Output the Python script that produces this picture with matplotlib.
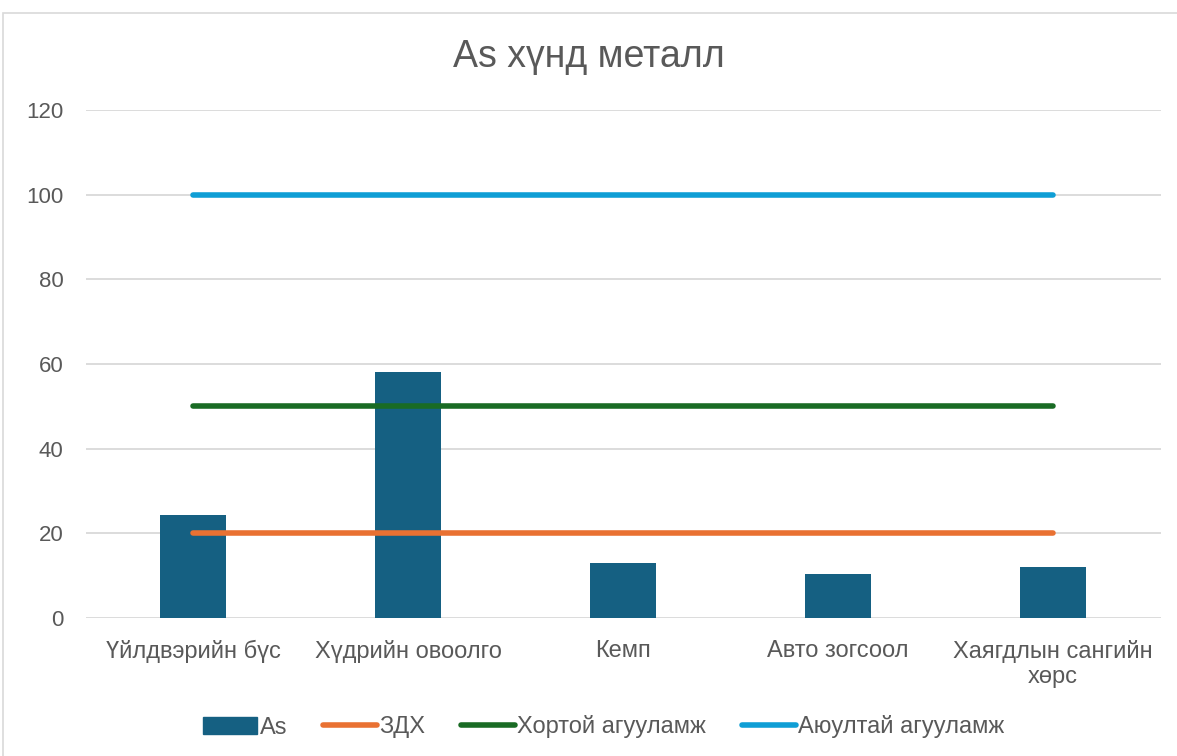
import matplotlib.pyplot as plt
from matplotlib.patches import Patch, Rectangle
from matplotlib.lines import Line2D

plt.rcParams['font.family'] = ['Liberation Sans', 'DejaVu Sans']

# Data
categories = ['Үйлдвэрийн бүс', 'Хүдрийн овоолго', 'Кемп', 'Авто зогсоол', 'Хаягдлын сангийн\nхөрс']
as_values = [24.3, 58.1, 13.0, 10.5, 12.0]
zdh = [20, 20, 20, 20, 20]
hortoi = [50, 50, 50, 50, 50]
ayuultai = [100, 100, 100, 100, 100]

text_col = '#595959'
bar_col = '#156082'
orange = '#E97132'
green = '#196B24'
blue = '#0F9ED5'

fig = plt.figure(figsize=(11.77, 7.56), dpi=100)
ax = fig.add_axes([85.5 / 1177, 1 - 618 / 756, 1075 / 1177, 508 / 756])

# chart border
fig.patches.append(Rectangle((3 / 1177, -0.01), 1.2, 1 - 13 / 756 + 0.01, transform=fig.transFigure,
                             fill=False, edgecolor='#D9D9D9', linewidth=1.2))

x = list(range(len(categories)))
ax.bar(x, as_values, width=0.31, color=bar_col, zorder=2)
ax.plot(x, zdh, color=orange, linewidth=4, solid_capstyle='round', zorder=3)
ax.plot(x, hortoi, color=green, linewidth=4, solid_capstyle='round', zorder=3)
ax.plot(x, ayuultai, color=blue, linewidth=4, solid_capstyle='round', zorder=3)

ax.set_xlim(-0.5, len(categories) - 0.5)
ax.set_ylim(0, 120)
ax.set_yticks(range(0, 121, 20))
ax.set_xticks(x)
ax.set_xticklabels(categories, fontsize=17, color=text_col, linespacing=1.15)
ax.tick_params(axis='y', labelsize=16, labelcolor=text_col, length=0, pad=16)
ax.tick_params(axis='x', length=0, pad=16)
ax.grid(axis='y', color='#D9D9D9', linewidth=1.3, zorder=0)
for s in ax.spines.values():
    s.set_visible(False)

fig.text(0.5, 1 - 57 / 756, 'As хүнд металл', ha='center', va='center', fontsize=27, color=text_col)

handles = [Patch(color=bar_col),
           Line2D([], [], color=orange, linewidth=4, solid_capstyle='round'),
           Line2D([], [], color=green, linewidth=4, solid_capstyle='round'),
           Line2D([], [], color=blue, linewidth=4, solid_capstyle='round')]
labels = ['As', 'ЗДХ', 'Хортой агууламж', 'Аюултай агууламж']
fig.legend(handles, labels, loc='center', bbox_to_anchor=(0.513, 1 - 727 / 756), ncol=4, frameon=False,
           fontsize=17, labelcolor=text_col, handlelength=2.3, handletextpad=0.1, columnspacing=1.5)

fig.savefig('out.png', dpi=100)
